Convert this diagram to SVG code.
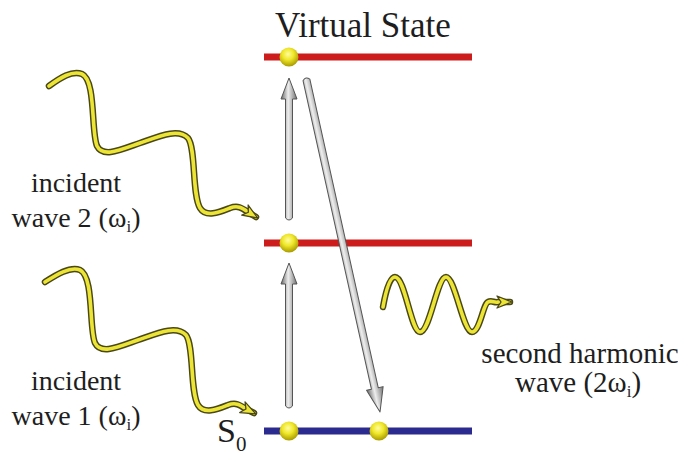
<svg xmlns="http://www.w3.org/2000/svg" width="678" height="457" viewBox="0 0 678 457">
<defs>
<style>
.waveOut{fill:none;stroke:#4a4718;stroke-width:6.5;stroke-linecap:round;stroke-linejoin:round}
.waveIn{fill:none;stroke:#ece535;stroke-width:3.6;stroke-linecap:round;stroke-linejoin:round}
.arr{stroke:#555;stroke-width:1;stroke-linejoin:round}
.lvlRed{stroke:#cc1c1c;stroke-width:7}
.lvlBlue{stroke:#2b2a8e;stroke-width:7}
</style>
<linearGradient id="gArr" x1="0" y1="0" x2="1" y2="0">
<stop offset="0" stop-color="#666"/>
<stop offset="0.45" stop-color="#eee"/>
<stop offset="1" stop-color="#707070"/>
</linearGradient>
<radialGradient id="gDot" cx="0.45" cy="0.35" r="0.65">
<stop offset="0" stop-color="#fffca0"/>
<stop offset="0.45" stop-color="#f0e82a"/>
<stop offset="1" stop-color="#a89a00"/>
</radialGradient>
<marker id="wHead" markerUnits="userSpaceOnUse" markerWidth="22" markerHeight="16" refX="14" refY="7" orient="auto" viewBox="0 0 22 14">
<path d="M1,1 L16,7 L1,13 L5,7 Z" fill="#ece535" stroke="#4a4718" stroke-width="1.3" stroke-linejoin="round"/>
</marker>
</defs>
<rect width="678" height="457" fill="#fff"/>

<g id="virtual-level">
<line class="lvlRed" x1="264" y1="57" x2="472" y2="57"/>
<circle cx="289" cy="57" r="9.5" fill="url(#gDot)"/>
</g>
<g id="intermediate-level">
<line class="lvlRed" x1="264" y1="243" x2="472" y2="243"/>
<circle cx="289" cy="243" r="9.5" fill="url(#gDot)"/>
</g>

<g id="connectors">
<path class="arr" fill="url(#gArr)" d="M289,78 L297,99 L292.5,99 L292.5,218 Q289,222 285.5,218 L285.5,99 L281,99 Z"/>
<path class="arr" fill="url(#gArr)" d="M289,263 L297,284 L292.5,284 L292.5,406 Q289,410 285.5,406 L285.5,284 L281,284 Z"/>
<path class="arr" fill="url(#gArr)" transform="translate(306,78) rotate(-12.5)" d="M-3.5,2 Q0,-2 3.5,2 L3.5,318 L8.5,318 L0,342 L-8.5,318 L-3.5,318 Z"/>
<path class="waveOut" d="M49,86 C60,78 72,70 82,74 C96,80 91,132 97,146 C103,158 120,150 140,143 C160,136 178,128 188,138 C196,148 192,195 200,208 C206,218 220,212 230,208 C238,205 242,208 248,212 L256,217"/>
<path class="waveIn" marker-end="url(#wHead)" d="M49,86 C60,78 72,70 82,74 C96,80 91,132 97,146 C103,158 120,150 140,143 C160,136 178,128 188,138 C196,148 192,195 200,208 C206,218 220,212 230,208 C238,205 242,208 248,212 L256,217"/>
<path class="waveOut" d="M45,282 C56,275 70,266 80,270 C94,276 89,330 95,343 C101,355 118,347 138,340 C158,333 176,325 186,335 C194,345 190,392 198,405 C204,415 218,409 228,405 C236,402 240,405 246,409 L254,413"/>
<path class="waveIn" marker-end="url(#wHead)" d="M45,282 C56,275 70,266 80,270 C94,276 89,330 95,343 C101,355 118,347 138,340 C158,333 176,325 186,335 C194,345 190,392 198,405 C204,415 218,409 228,405 C236,402 240,405 246,409 L254,413"/>
<path class="waveOut" d="M383,307 C386,290 390,277 395,277 C405,277 411,332 420,332 C430,332 437,277 446,277 C455,277 463,332 472,332 C480,332 483,304 488,302 C492,300 494,303 498,302 L510,302"/>
<path class="waveIn" marker-end="url(#wHead)" d="M383,307 C386,290 390,277 395,277 C405,277 411,332 420,332 C430,332 437,277 446,277 C455,277 463,332 472,332 C480,332 483,304 488,302 C492,300 494,303 498,302 L510,302"/>
</g>

<g id="ground-level">
<line class="lvlBlue" x1="264" y1="431" x2="472" y2="431"/>
<circle cx="289" cy="431" r="9.5" fill="url(#gDot)"/>
<circle cx="379" cy="431" r="9.5" fill="url(#gDot)"/>
</g>

<g id="labels" font-family="'Liberation Serif', 'DejaVu Serif', 'Times New Roman', serif" fill="#1e1e1e">
<text x="275" y="37" font-size="35">Virtual State</text>
<text x="76" y="192" font-size="28" text-anchor="middle">incident</text>
<text x="76" y="227" font-size="28" text-anchor="middle">wave 2 (ω<tspan font-size="17" dy="5">i</tspan><tspan dy="-5">)</tspan></text>
<text x="76" y="390" font-size="28" text-anchor="middle">incident</text>
<text x="76" y="425" font-size="28" text-anchor="middle">wave 1 (ω<tspan font-size="17" dy="5">i</tspan><tspan dy="-5">)</tspan></text>
<text x="217" y="442" font-size="34">S<tspan font-size="21" dy="9">0</tspan></text>
<text x="580" y="363" font-size="29" text-anchor="middle">second harmonic</text>
<text x="578" y="392" font-size="29" text-anchor="middle">wave  (2ω<tspan font-size="17" dy="5">i</tspan><tspan dy="-5">)</tspan></text>
</g>
</svg>
